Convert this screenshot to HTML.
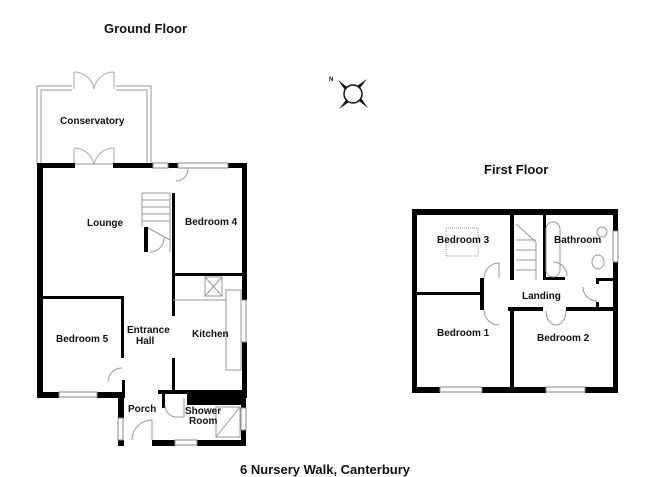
<!DOCTYPE html>
<html><head><style>
body{margin:0;background:#fff}
svg{display:block}
text{font-family:"Liberation Sans",Arial,sans-serif;font-weight:bold;fill:#111}
</style></head><body>
<svg width="656" height="477" viewBox="0 0 656 477" xmlns="http://www.w3.org/2000/svg">
<text x="104" y="33" font-size="13">Ground Floor</text>
<text x="484" y="174" font-size="13">First Floor</text>
<text x="240" y="474" font-size="13">6 Nursery Walk, Canterbury</text>

<!-- compass -->
<g transform="translate(353,94)">
<circle r="9" fill="#fff" stroke="#111" stroke-width="1.5"/>
<path d="M-6,-7 L-15,-14 L-8,-4 Z M7,-6 L14,-15 L4,-8 Z M6,7 L15,14 L8,4 Z M-7,6 L-14,15 L-4,8 Z" fill="#111"/>
<text x="-24" y="-13" font-size="6" font-weight="normal">N</text>
</g>

<!-- Conservatory (thin walls) -->
<g fill="none" stroke="#999" stroke-width="1">
<rect x="37" y="86" width="114" height="78"/>
<rect x="41" y="90" width="106" height="74"/>
</g>
<rect x="72" y="84" width="44" height="8" fill="#fff"/>
<g fill="none" stroke="#aaa" stroke-width="1">
<path d="M74,89 V72 M74,72 A20,20 0 0 1 94,89 M114,89 V72 M114,72 A20,20 0 0 0 94,89"/>
<path d="M74,165 V148 M74,148 A20,20 0 0 1 94,165 M114,165 V148 M114,148 A20,20 0 0 0 94,165"/>
</g>

<g fill="#000">
<rect x="37" y="163" width="38" height="5"/>
<rect x="113" y="163" width="40" height="5"/>
<rect x="168" y="163" width="10" height="5"/>
<rect x="228" y="163" width="19" height="5"/>
<rect x="37" y="163" width="6" height="235"/>
<rect x="242" y="163" width="5" height="137"/>
<rect x="242" y="342" width="5" height="56"/>
<rect x="172" y="193" width="3" height="80"/>
<rect x="172" y="273" width="72" height="3"/>
<rect x="172" y="276" width="3" height="40"/>
<rect x="172" y="358" width="3" height="33"/>
<rect x="37" y="296" width="87" height="3"/>
<rect x="121" y="296" width="3" height="62"/>
<rect x="122" y="380" width="3" height="12"/>
<rect x="37" y="392" width="22" height="6"/>
<rect x="97" y="392" width="28" height="6"/>
<rect x="118" y="392" width="6" height="26"/>
<rect x="158" y="390" width="88" height="4"/>
<rect x="187" y="390" width="59" height="15"/>
<rect x="162" y="394" width="3" height="14"/>
<rect x="118" y="440" width="6" height="6"/>
<rect x="152" y="440" width="23" height="6"/>
<rect x="197" y="440" width="49" height="6"/>
<rect x="241" y="404" width="5" height="4"/>
<rect x="241" y="430" width="5" height="14"/>
<rect x="144" y="227" width="4" height="25"/>
</g>
<g fill="#fff" stroke="#888" stroke-width="1">
<rect x="153" y="163" width="15" height="5"/>
<rect x="178" y="163" width="50" height="5"/>
<rect x="59" y="392" width="38" height="5"/>
<rect x="118" y="418" width="5" height="22"/>
<rect x="175" y="440" width="22" height="5"/>
<rect x="241" y="300" width="5" height="42"/>
<rect x="241" y="408" width="5" height="22"/>
</g>
<g fill="none" stroke="#999" stroke-width="1">
<path d="M142,193 H170 V252 M142,193 V227 M142,200 H170 M142,207 H170 M142,214 H170 M142,221 H170 M148,228 L170,240"/>
<path d="M150,252 A14,14 0 0 0 164,238" />
<path d="M176,181 A12,12 0 0 0 188,169"/>
<path d="M108,382 A14,14 0 0 1 122,368"/>
<path d="M132,440 A20,20 0 0 1 152,420 L152,440"/>
<path d="M165,405 A12,12 0 0 0 175,417 H184 V398"/>
<rect x="226" y="290" width="15" height="80"/>
<path d="M173,300 H226 M205,277 H222 V296 H205 Z M205,277 L222,296 M222,277 L205,296"/>
<rect x="216" y="407" width="24" height="30"/>
<path d="M216,437 L240,407"/>
</g>
<text x="60" y="124" font-size="10">Conservatory</text>
<text x="87" y="226" font-size="10">Lounge</text>
<text x="185" y="225" font-size="10">Bedroom 4</text>
<text x="127" y="333" font-size="10">Entrance</text>
<text x="136" y="344" font-size="10">Hall</text>
<text x="192" y="337" font-size="10">Kitchen</text>
<text x="56" y="342" font-size="10">Bedroom 5</text>
<text x="128" y="412" font-size="10">Porch</text>
<text x="185" y="414" font-size="10">Shower</text>
<text x="189" y="424" font-size="10">Room</text>

<!-- First floor -->
<g fill="#000">
<rect x="412" y="209" width="206" height="6"/>
<rect x="412" y="209" width="5" height="184"/>
<rect x="613" y="209" width="5" height="22"/>
<rect x="613" y="262" width="5" height="131"/>
<rect x="412" y="387" width="28" height="6"/>
<rect x="482" y="387" width="64" height="6"/>
<rect x="585" y="387" width="33" height="6"/>
<rect x="417" y="292" width="64" height="3"/>
<rect x="480" y="278" width="4" height="32"/>
<rect x="510" y="215" width="4" height="65"/>
<rect x="543" y="215" width="3" height="65"/>
<rect x="543" y="277" width="22" height="3"/>
<rect x="596" y="278" width="17" height="3"/>
<rect x="596" y="278" width="3" height="6"/>
<rect x="596" y="302" width="3" height="6"/>
<rect x="508" y="307" width="35" height="4"/>
<rect x="566" y="307" width="47" height="4"/>
<rect x="510" y="309" width="4" height="81"/>
</g>
<g fill="#fff" stroke="#888" stroke-width="1">
<rect x="440" y="387" width="42" height="5"/>
<rect x="546" y="387" width="39" height="5"/>
<rect x="613" y="231" width="5" height="31"/>
</g>
<g fill="none" stroke="#999" stroke-width="1">
<path d="M516,224 L536,242 V280 M516,240 H536 M516,250 H536 M516,260 H536 M516,270 H536"/>
<path d="M484,278 A15,15 0 0 1 499,263 V278"/>
<path d="M484,310 A15,15 0 0 0 499,325"/>
<path d="M546,311 A10,14 0 0 0 556,325 A10,14 0 0 0 566,311"/>
<path d="M567,276 A14,14 0 0 0 553,262"/>
<path d="M597,301 A14,14 0 0 1 583,287"/>
<rect x="546" y="222" width="14" height="55" rx="7"/>
<rect x="446" y="228" width="32" height="28" stroke-dasharray="1,1"/>
<ellipse cx="598" cy="262" rx="6" ry="7"/>
<circle cx="602" cy="232" r="5"/>
</g>
<text x="437" y="243" font-size="10">Bedroom 3</text>
<text x="554" y="243" font-size="10">Bathroom</text>
<text x="522" y="299" font-size="10">Landing</text>
<text x="437" y="336" font-size="10">Bedroom 1</text>
<text x="537" y="341" font-size="10">Bedroom 2</text>
</svg>
</body></html>
